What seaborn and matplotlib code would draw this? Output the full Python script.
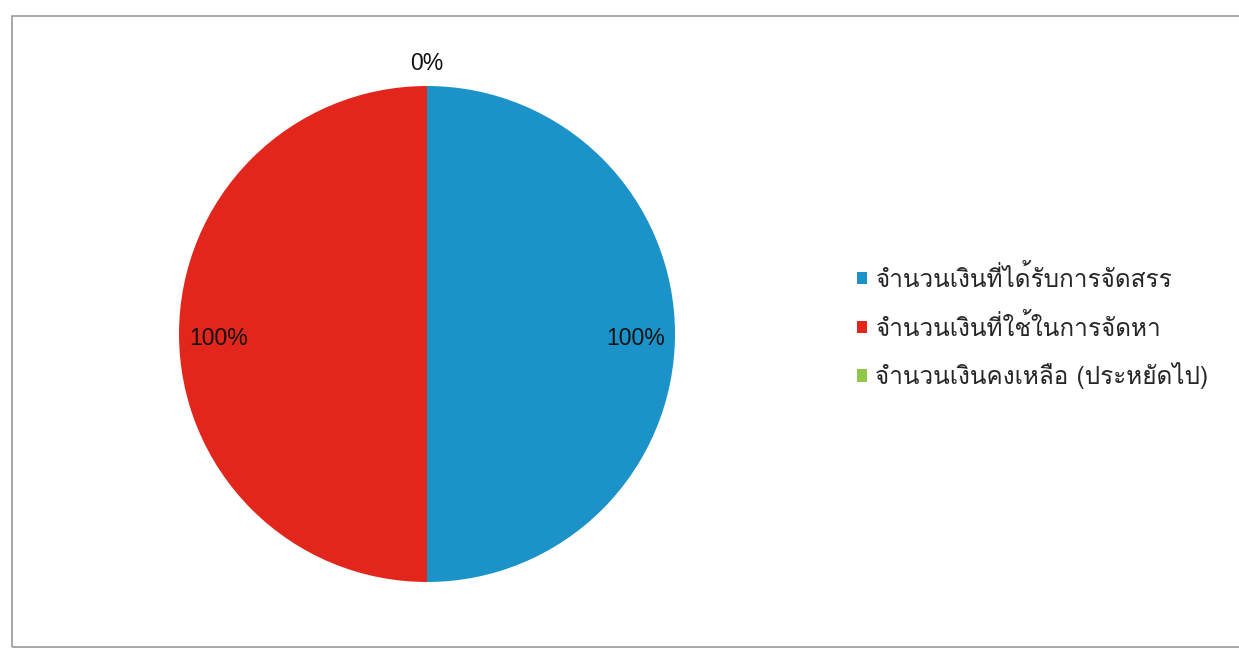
import matplotlib
matplotlib.use("Agg")
import matplotlib.pyplot as plt
from matplotlib import font_manager
from matplotlib.ft2font import FT2Font
from matplotlib.patches import Rectangle
import seaborn as sns
import numpy as np

# data
categories = ['จำนวนเงินที่ได้รับการจัดสรร',
              'จำนวนเงินที่ใช้ในการจัดหา',
              'จำนวนเงินคงเหลือ (ประหยัดไป)']
values = [100, 100, 0]
pct_labels = ['100%', '100%', '0%']
colors = ['#1b93c8', '#e3261c', '#92c84a']

sns.set_theme(style="white")


# find a font that has Thai glyphs
def find_thai_font():
    seen = set()
    for f in font_manager.fontManager.ttflist:
        if f.name in seen:
            continue
        seen.add(f.name)
        try:
            cmap = FT2Font(f.fname).get_charmap()
        except Exception:
            continue
        if 0x0E08 in cmap and 0x0E32 in cmap:
            return f.name
    return None


thai = find_thai_font()
families = ([thai] if thai else []) + ['Liberation Sans', 'DejaVu Sans']
plt.rcParams['font.family'] = families

W, H = 1239, 654
fig = plt.figure(figsize=(W / 100, H / 100), dpi=100)
fig.patch.set_facecolor('white')

# chart frame
fig.add_artist(Rectangle((12 / W, (H - 647) / H), (W + 20) / W, (647 - 16) / H,
                         transform=fig.transFigure, fill=False,
                         edgecolor='#9a9a9a', linewidth=1.2))

cx, cy, r = 427, 334, 248
ax = fig.add_axes([(cx - r) / W, (H - cy - r) / H, 2 * r / W, 2 * r / H])
wedges, _ = ax.pie(values, colors=colors, startangle=90, counterclock=False,
                   wedgeprops=dict(linewidth=0))
ax.set_xlim(-1, 1)
ax.set_ylim(-1, 1)
ax.axis('off')

# data labels: inside for the big slices, outside for the empty one
for w, lab, v in zip(wedges, pct_labels, values):
    ang = np.deg2rad((w.theta1 + w.theta2) / 2)
    d = 0.84 if v > 0 else 1.09
    ax.text(d * np.cos(ang), d * np.sin(ang) - (0.02 if v > 0 else 0), lab,
            ha='center', va='center', fontsize=16.5, color='#111111',
            clip_on=False, family=['Liberation Sans', 'DejaVu Sans'])

leg = fig.legend(wedges, categories, loc='center left',
                 bbox_to_anchor=(847 / W, (H - 327) / H), frameon=False,
                 fontsize=17.5, handlelength=0.42, handleheight=0.42,
                 handletextpad=0.35, labelspacing=0.9, borderaxespad=0)

plt.savefig('out.png', dpi=100)
plt.close()
